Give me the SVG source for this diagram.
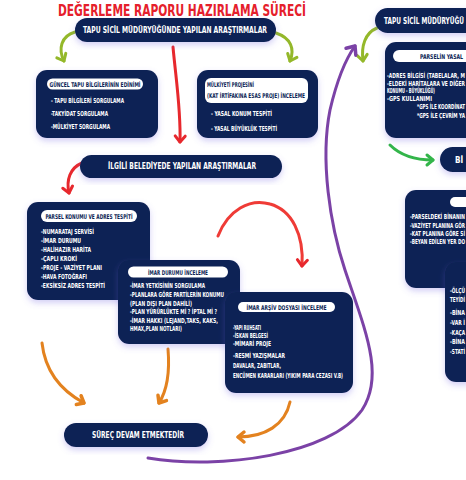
<svg xmlns="http://www.w3.org/2000/svg" width="466" height="480" viewBox="0 0 466 480">
<style>
.nb{fill:#0b2454;filter:url(#sh)}
.wp{fill:#ffffff}
.t{font-family:"Liberation Sans Narrow","DejaVu Sans Condensed","Liberation Sans",sans-serif;font-weight:bold}
.pt{fill:#ffffff;font-size:8px}
.lt{fill:#0b2454;font-size:6.5px}
.it{fill:#ffffff;font-size:6.8px}
.ar{fill:none;stroke-width:3;stroke-linecap:round}
</style>
<defs>
<filter id="sh" x="-20%" y="-20%" width="140%" height="150%">
<feDropShadow dx="0" dy="3" stdDeviation="3" flood-color="#6f5fe0" flood-opacity="0.3"/>
</filter>
<marker id="mg" viewBox="-9 -7 12 14" markerWidth="12" markerHeight="14" refX="0" refY="0" orient="auto" markerUnits="userSpaceOnUse" overflow="visible"><path d="M-6,-5 L0,0 L-6,5" fill="none" stroke="#94b82a" stroke-width="3" stroke-linecap="round" stroke-linejoin="round"/></marker>
<marker id="mG" viewBox="-9 -7 12 14" markerWidth="12" markerHeight="14" refX="0" refY="0" orient="auto" markerUnits="userSpaceOnUse" overflow="visible"><path d="M-6,-5 L0,0 L-6,5" fill="none" stroke="#33b54a" stroke-width="3" stroke-linecap="round" stroke-linejoin="round"/></marker>
<marker id="mr" viewBox="-9 -7 12 14" markerWidth="12" markerHeight="14" refX="0" refY="0" orient="auto" markerUnits="userSpaceOnUse" overflow="visible"><path d="M-6,-5 L0,0 L-6,5" fill="none" stroke="#e7282d" stroke-width="3" stroke-linecap="round" stroke-linejoin="round"/></marker>
<marker id="mo" viewBox="-9 -7 12 14" markerWidth="12" markerHeight="14" refX="0" refY="0" orient="auto" markerUnits="userSpaceOnUse" overflow="visible"><path d="M-6,-5 L0,0 L-6,5" fill="none" stroke="#e3821f" stroke-width="3.5" stroke-linecap="round" stroke-linejoin="round"/></marker>
<marker id="mp" viewBox="-9 -7 12 14" markerWidth="12" markerHeight="14" refX="0" refY="0" orient="auto" markerUnits="userSpaceOnUse" overflow="visible"><path d="M-7,-6 L0,0 L-7,6" fill="none" stroke="#7b42a6" stroke-width="3.5" stroke-linecap="round" stroke-linejoin="round"/></marker>
</defs>
<rect width="466" height="480" fill="#ffffff"/>
<text class="t" x="182" y="15.5" text-anchor="middle" font-size="16" fill="#e5202b" textLength="248" lengthAdjust="spacingAndGlyphs">DEĞERLEME RAPORU HAZIRLAMA SÜRECİ</text>

<g id="connectors">
<path class="ar" stroke="#94b82a" d="M75,32 C61,36 58,49 64,61" marker-end="url(#mg)"/>
<path class="ar" stroke="#94b82a" d="M276,33 C291,38 295,49 290,61" marker-end="url(#mg)"/>
<path class="ar" stroke="#94b82a" d="M377,28 C365,33 361,46 363,61" marker-end="url(#mg)"/>
<path class="ar" stroke="#33b54a" d="M390,145 C400,155 415,160 433,160" marker-end="url(#mG)"/>
<path class="ar" stroke="#e7282d" d="M173,47 C176,80 181,110 180,142" marker-end="url(#mr)"/>
<path class="ar" stroke="#e7282d" d="M82,163 C70,168 66,180 69,193" marker-end="url(#mr)"/>
<path class="ar" stroke="#ef3b36" d="M218,236 C228,210 250,198 270,204 C292,210 304,235 302,266" marker-end="url(#mr)"/>
<path class="ar" stroke="#e3821f" stroke-width="3.5" d="M42,343 C45,370 60,390 84,403" marker-end="url(#mo)"/>
<path class="ar" stroke="#e3821f" stroke-width="3.5" d="M168,349 C170,373 166,392 159,403" marker-end="url(#mo)"/>
<path class="ar" stroke="#e3821f" stroke-width="3.5" d="M290,402 C285,425 265,437 238,437" marker-end="url(#mo)"/>
<path class="ar" stroke="#7b42a6" d="M148,458 C220,470 330,455 362,410 C385,375 365,330 345,270 C330,225 320,160 330,110 C337,80 345,60 355,46" marker-end="url(#mp)"/>
</g>

<g id="tapu-pill">
<rect class="nb" x="75" y="18" width="201" height="24" rx="12"/>
<text class="t pt" x="175" y="33" text-anchor="middle" textLength="184" lengthAdjust="spacingAndGlyphs">TAPU SİCİL MÜDÜRYÜĞÜNDE YAPILAN ARAŞTIRMALAR</text>
</g>

<g id="guncel-tapu">
<rect class="nb" x="36" y="70" width="122" height="68" rx="11"/>
<rect class="wp" x="47" y="78.5" width="96" height="11" rx="5.5"/>
<text class="t lt" x="95" y="86.5" text-anchor="middle" textLength="91" lengthAdjust="spacingAndGlyphs">GÜNCEL TAPU BİLGİLERİNİN EDİNİMİ</text>
<text class="t it" x="51" y="102.5" textLength="73" lengthAdjust="spacingAndGlyphs">- TAPU BİLGİLERİ SORGULAMA</text>
<text class="t it" x="51" y="115.5" textLength="57" lengthAdjust="spacingAndGlyphs">-TAKYİDAT SORGULAMA</text>
<text class="t it" x="51" y="128.5" textLength="59" lengthAdjust="spacingAndGlyphs">-MÜLKİYET SORGULAMA</text>
</g>

<g id="mulkiyet-projesi">
<rect class="nb" x="197" y="70" width="121" height="68" rx="11"/>
<rect class="wp" x="205" y="78" width="103" height="25" rx="6"/>
<text class="t lt" x="207" y="87" textLength="47" lengthAdjust="spacingAndGlyphs">MÜLKİYETİ PROJESİNİ</text>
<text class="t lt" x="207" y="98" textLength="98" lengthAdjust="spacingAndGlyphs">(KAT İRTİFAKINA ESAS PROJE) İNCELEME</text>
<text class="t it" x="211" y="116" textLength="61" lengthAdjust="spacingAndGlyphs">- YASAL KONUM TESPİTİ</text>
<text class="t it" x="211" y="130.5" textLength="66" lengthAdjust="spacingAndGlyphs">- YASAL BÜYÜKLÜK TESPİTİ</text>
</g>

<g id="belediye-pill">
<rect class="nb" x="80" y="155" width="202" height="23" rx="11.5"/>
<text class="t pt" x="182" y="169" text-anchor="middle" textLength="148" lengthAdjust="spacingAndGlyphs">İLGİLİ BELEDİYEDE YAPILAN ARAŞTIRMALAR</text>
</g>

<g id="parsel-konumu">
<rect class="nb" x="27" y="202" width="123" height="98" rx="11"/>
<rect class="wp" x="41" y="210" width="96" height="12" rx="6"/>
<text class="t lt" x="89" y="218.5" text-anchor="middle" textLength="87" lengthAdjust="spacingAndGlyphs">PARSEL KONUMU VE ADRES TESPİTİ</text>
<text class="t it" x="41" y="234" textLength="53" lengthAdjust="spacingAndGlyphs">-NUMARATAJ SERVİSİ</text>
<text class="t it" x="41" y="243" textLength="40" lengthAdjust="spacingAndGlyphs">-İMAR DURUMU</text>
<text class="t it" x="41" y="252" textLength="50" lengthAdjust="spacingAndGlyphs">-HALİHAZIR HARİTA</text>
<text class="t it" x="41" y="261" textLength="36" lengthAdjust="spacingAndGlyphs">-ÇAPLI KROKİ</text>
<text class="t it" x="41" y="270" textLength="61" lengthAdjust="spacingAndGlyphs">-PROJE - VAZİYET PLANI</text>
<text class="t it" x="41" y="279" textLength="46" lengthAdjust="spacingAndGlyphs">-HAVA FOTOĞRAFI</text>
<text class="t it" x="41" y="288" textLength="64" lengthAdjust="spacingAndGlyphs">-EKSİKSİZ ADRES TESPİTİ</text>
</g>

<g id="imar-durumu">
<rect class="nb" x="118" y="260" width="122" height="84" rx="11"/>
<rect class="wp" x="128" y="266.5" width="100" height="11" rx="5.5"/>
<text class="t lt" x="178" y="274.5" text-anchor="middle" textLength="60" lengthAdjust="spacingAndGlyphs">İMAR DURUMU İNCELEME</text>
<text class="t it" x="130" y="288" textLength="75" lengthAdjust="spacingAndGlyphs">-İMAR YETKİSİNİN SORGULAMA</text>
<text class="t it" x="130" y="297" textLength="94" lengthAdjust="spacingAndGlyphs">-PLANLARA GÖRE PARTİLERİN KONUMU</text>
<text class="t it" x="130" y="305.5" textLength="62" lengthAdjust="spacingAndGlyphs">(PLAN DIŞI PLAN DAHİLİ)</text>
<text class="t it" x="130" y="314" textLength="87" lengthAdjust="spacingAndGlyphs">-PLAN YÜRÜRLÜKTE Mİ ? İPTAL Mİ ?</text>
<text class="t it" x="130" y="322.5" textLength="88" lengthAdjust="spacingAndGlyphs">-İMAR HAKKI (LEJAND,TAKS, KAKS,</text>
<text class="t it" x="130" y="331" textLength="52" lengthAdjust="spacingAndGlyphs">HMAX,PLAN NOTLARI)</text>
</g>

<g id="imar-arsiv">
<rect class="nb" x="225" y="292" width="128" height="101" rx="11"/>
<rect class="wp" x="238" y="302" width="97" height="10" rx="5"/>
<text class="t lt" x="286.5" y="309.5" text-anchor="middle" textLength="80" lengthAdjust="spacingAndGlyphs">İMAR ARŞİV DOSYASI İNCELEME</text>
<text class="t it" x="233" y="330" textLength="28" lengthAdjust="spacingAndGlyphs">-YAPI RUHSATI</text>
<text class="t it" x="233" y="338" textLength="35" lengthAdjust="spacingAndGlyphs">-İSKAN BELGESİ</text>
<text class="t it" x="233" y="346" textLength="38" lengthAdjust="spacingAndGlyphs">-MİMARİ PROJE</text>
<text class="t it" x="233" y="357.5" textLength="52" lengthAdjust="spacingAndGlyphs">-RESMİ YAZIŞMALAR</text>
<text class="t it" x="233" y="367.5" textLength="48" lengthAdjust="spacingAndGlyphs">DAVALAR, ZABITLAR,</text>
<text class="t it" x="233" y="377.5" textLength="110" lengthAdjust="spacingAndGlyphs">ENCÜMEN KARARLARI (YIKIM PARA CEZASI V.B)</text>
</g>

<g id="surec-devam">
<rect class="nb" x="64" y="423" width="144" height="24" rx="12"/>
<text class="t pt" x="138" y="438" text-anchor="middle" textLength="92" lengthAdjust="spacingAndGlyphs">SÜREÇ DEVAM ETMEKTEDİR</text>
</g>

<g id="tapu-pill-2">
<rect class="nb" x="375" y="8" width="120" height="25" rx="12.5"/>
<text class="t pt" x="384" y="23.5" textLength="80" lengthAdjust="spacingAndGlyphs">TAPU SİCİL MÜDÜRYÜĞÜ</text>
</g>

<g id="parselin-yasal">
<rect class="nb" x="385" y="42" width="120" height="96" rx="11"/>
<rect class="wp" x="393" y="50" width="100" height="12" rx="6"/>
<text class="t lt" x="420" y="58.5" textLength="43" lengthAdjust="spacingAndGlyphs">PARSELİN YASAL</text>
<text class="t it" x="387" y="77.5" textLength="78" lengthAdjust="spacingAndGlyphs">-ADRES BİLGİSİ (TABELALAR, M</text>
<text class="t it" x="387" y="85.5" textLength="78" lengthAdjust="spacingAndGlyphs">-ELDEKİ HARİTALARA VE DİĞER</text>
<text class="t it" x="387" y="92.5" textLength="48" lengthAdjust="spacingAndGlyphs">KONUMU - BÜYÜKLÜĞÜ)</text>
<text class="t it" x="387" y="100.5" textLength="45" lengthAdjust="spacingAndGlyphs">-GPS KULLANIMI</text>
<text class="t it" x="417" y="109" textLength="48" lengthAdjust="spacingAndGlyphs">*GPS İLE KOORDİNAT</text>
<text class="t it" x="417" y="117.5" textLength="48" lengthAdjust="spacingAndGlyphs">*GPS İLE ÇEVRİM YA</text>
</g>

<g id="bi-pill">
<rect class="nb" x="440" y="147" width="60" height="25" rx="12.5"/>
<text class="t pt" x="455" y="163">Bİ</text>
</g>

<g id="parseldeki-bina">
<rect class="nb" x="405" y="190" width="100" height="98" rx="11"/>
<rect class="wp" x="450" y="197" width="40" height="10" rx="5"/>
<text class="t it" x="410" y="219" textLength="55" lengthAdjust="spacingAndGlyphs">-PARSELDEKİ BİNANIN</text>
<text class="t it" x="410" y="227.5" textLength="55" lengthAdjust="spacingAndGlyphs">-VAZİYET PLANINA GÖR</text>
<text class="t it" x="410" y="235.5" textLength="55" lengthAdjust="spacingAndGlyphs">-KAT PLANINA GÖRE Sİ</text>
<text class="t it" x="410" y="244" textLength="55" lengthAdjust="spacingAndGlyphs">-BEYAN EDİLEN YER DO</text>
</g>

<g id="olcu-teyidi">
<rect class="nb" x="445" y="262" width="60" height="120" rx="11"/>
<text class="t it" x="450" y="293" textLength="15" lengthAdjust="spacingAndGlyphs">-ÖLÇÜ</text>
<text class="t it" x="450" y="301.5" textLength="15" lengthAdjust="spacingAndGlyphs">TEYİDİ</text>
<text class="t it" x="450" y="314.5" textLength="15" lengthAdjust="spacingAndGlyphs">-BİNA</text>
<text class="t it" x="450" y="324.5" textLength="15" lengthAdjust="spacingAndGlyphs">-VAR İ</text>
<text class="t it" x="450" y="334.5" textLength="15" lengthAdjust="spacingAndGlyphs">-KAÇA</text>
<text class="t it" x="450" y="343.5" textLength="15" lengthAdjust="spacingAndGlyphs">-BİNA</text>
<text class="t it" x="450" y="353.5" textLength="15" lengthAdjust="spacingAndGlyphs">-STATİ</text>
</g>
</svg>
